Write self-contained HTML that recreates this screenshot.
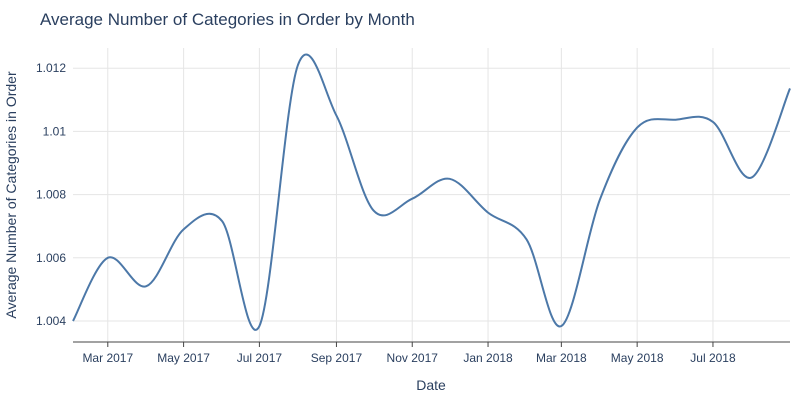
<!DOCTYPE html>
<html><head><meta charset="utf-8"><style>
body{margin:0;background:#fff;font-family:"Liberation Sans",Arial,sans-serif}
svg text{font-family:"Liberation Sans",Arial,sans-serif;fill:#2a3f5f}
</style></head><body>
<svg id="chart" width="800" height="400">
<text x="40" y="25" font-size="17">Average Number of Categories in Order by Month</text>
<g id="grid"></g>
<g id="xticks"></g>
<g id="yticks"></g>
<text x="431" y="390" font-size="14" text-anchor="middle">Date</text>
<text transform="translate(16,195) rotate(-90)" font-size="14" text-anchor="middle">Average Number of Categories in Order</text>
<path id="line" fill="none" stroke="#4c78a8" stroke-width="2"></path>
</svg>
<script>
const dates=["2017-02-01","2017-03-01","2017-04-01","2017-05-01","2017-06-01","2017-07-01","2017-08-01","2017-09-01","2017-10-01","2017-11-01","2017-12-01","2018-01-01","2018-02-01","2018-03-01","2018-04-01","2018-05-01","2018-06-01","2018-07-01","2018-08-01","2018-09-01"];
const values=[1.0040,1.0060,1.0051,1.0069,1.00716,1.00384,1.0121,1.0105,1.00749,1.00787,1.0085,1.00743,1.00658,1.00384,1.00784,1.01012,1.01037,1.0103,1.00854,1.01136];
const xTickDates=["2017-03-01","2017-05-01","2017-07-01","2017-09-01","2017-11-01","2018-01-01","2018-03-01","2018-05-01","2018-07-01"];
const xTickLabels=["Mar 2017","May 2017","Jul 2017","Sep 2017","Nov 2017","Jan 2018","Mar 2018","May 2018","Jul 2018"];
const yTicks=[1.004,1.006,1.008,1.01,1.012];
const yTickLabels=["1.004","1.006","1.008","1.01","1.012"];
const NS="http://www.w3.org/2000/svg";
const t0=Date.parse("2017-02-01"),t1=Date.parse("2018-09-01");
function X(d){return 73+(Date.parse(d)-t0)/(t1-t0)*717;}
function Y(v){return 321-(v-1.004)*31600;}
const grid=document.getElementById('grid'),xt=document.getElementById('xticks'),yt=document.getElementById('yticks');
function mk(tag,attrs,parent){const e=document.createElementNS(NS,tag);for(const k in attrs)e.setAttribute(k,attrs[k]);parent.appendChild(e);return e;}
yTicks.forEach((v,i)=>{
 const l=mk('line',{x1:73,x2:790,y1:Y(v),y2:Y(v),stroke:'#e5e5e5'},grid);
 
 
 const t=mk('text',{x:66,y:Y(v)+4,'font-size':12,'text-anchor':'end'},yt);
 t.textContent=yTickLabels[i];
 
 
});
xTickDates.forEach((d,i)=>{
 const l=mk('line',{x1:X(d),x2:X(d),y1:48,y2:342,stroke:'#e5e5e5'},grid);
 
 
 const tk=mk('line',{x1:X(d),x2:X(d),y1:342,y2:347,stroke:'#444'},xt);
 
 
 const t=mk('text',{x:X(d),y:362,'font-size':12,'text-anchor':'middle'},xt);
 t.textContent=xTickLabels[i];
 
 
});
const ax=mk('line',{x1:73,x2:790,y1:342,y2:342,stroke:'#444'},grid);


const P=dates.map((d,i)=>[X(d),Y(values[i])]);
let s="M"+P[0][0]+","+P[0][1];
for(let i=0;i<P.length-1;i++){
 const p0=P[Math.max(0,i-1)],p1=P[i],p2=P[i+1],p3=P[Math.min(P.length-1,i+2)];
 const k=1/6;
 s+=" C"+(p1[0]+(p2[0]-p0[0])*k)+","+(p1[1]+(p2[1]-p0[1])*k)+" "+(p2[0]-(p3[0]-p1[0])*k)+","+(p2[1]-(p3[1]-p1[1])*k)+" "+p2[0]+","+p2[1];
}
document.getElementById('line').setAttribute('d',s);
</script>
</body></html>
